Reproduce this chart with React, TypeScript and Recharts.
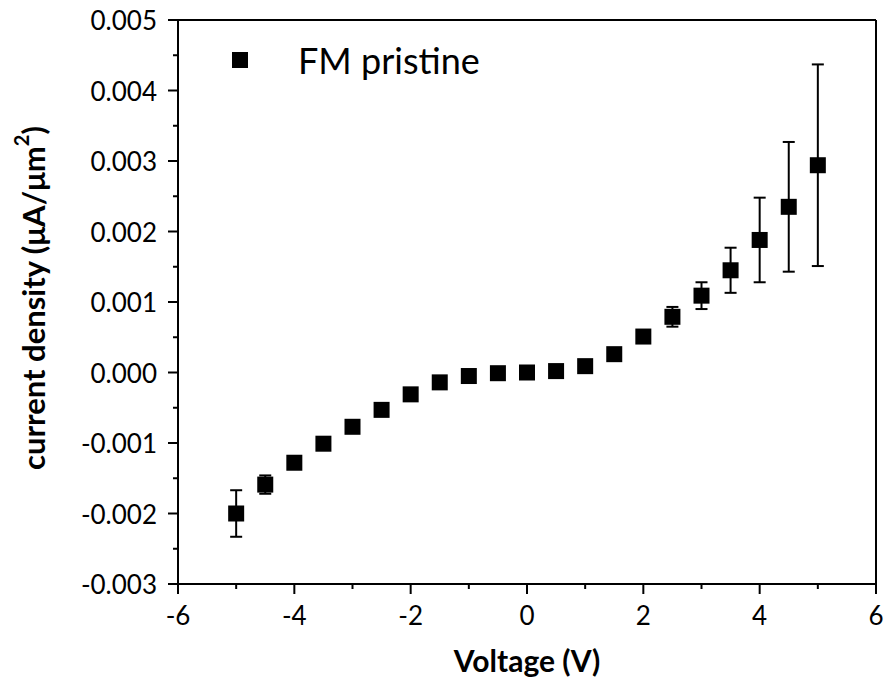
import { ErrorBar, Label, ReferenceLine, Scatter, ScatterChart, XAxis, YAxis } from "recharts";

const voltage = [-5, -4.5, -4, -3.5, -3, -2.5, -2, -1.5, -1, -0.5, 0, 0.5, 1, 1.5, 2, 2.5, 3, 3.5, 4, 4.5, 5];
const density = [
  -0.002, -0.00159, -0.00128, -0.00101, -0.00077, -0.00053, -0.00031, -0.00014, -0.00005, -0.00001, 0,
  0.00002, 0.00009, 0.00026, 0.00051, 0.00079, 0.00109, 0.00145, 0.00188, 0.00235, 0.00294,
];
const densityErr = [
  0.00033, 0.00013, 0, 0, 0, 0, 0, 0, 0, 0, 0,
  0, 0, 0, 0, 0.00014, 0.00019, 0.00032, 0.0006, 0.00092, 0.00143,
];

const xMajorTicks = [-6, -4, -2, 0, 2, 4, 6];
const xMinorTicks = [-5, -3, -1, 1, 3, 5];
const yMajorTicks = [-0.003, -0.002, -0.001, 0, 0.001, 0.002, 0.003, 0.004, 0.005];
const yMinorTicks = [-0.0025, -0.0015, -0.0005, 0.0005, 0.0015, 0.0025, 0.0035, 0.0045];

const seriesName = "FM pristine";

const data = voltage.map((v, i) => ({ x: v, y: density[i], err: densityErr[i] }));

const font = "Lato, 'Open Sans', sans-serif";

function SquareDot(props: any) {
  const { cx, cy } = props;
  return <rect x={cx - 8} y={cy - 8} width={16} height={16} fill="#000" />;
}

function YTick(props: any) {
  const { x, y, payload } = props;
  const major = yMajorTicks.includes(payload.value);
  return (
    <g>
      <line x1={x - (major ? 10 : 5)} y1={y} x2={x} y2={y} stroke="#000" strokeWidth={2} />
      {major && (
        <text x={x - 21} y={y} textAnchor="end" dominantBaseline="central" fontSize={26} fontFamily={font} fill="#000">
          {payload.value.toFixed(3)}
        </text>
      )}
    </g>
  );
}

function XTick(props: any) {
  const { x, y, payload } = props;
  const major = xMajorTicks.includes(payload.value);
  return (
    <g>
      <line x1={x} y1={y} x2={x} y2={y + (major ? 10 : 5)} stroke="#000" strokeWidth={2} />
      {major && (
        <text x={x} y={y + 31} textAnchor="middle" dominantBaseline="central" fontSize={26} fontFamily={font} fill="#000">
          {payload.value}
        </text>
      )}
    </g>
  );
}

function LegendBox() {
  return (
    <div
      style={{
        position: "absolute",
        top: 40,
        left: 232,
        display: "flex",
        alignItems: "center",
        fontFamily: font,
        fontSize: 36,
        lineHeight: "40px",
        color: "#000",
      }}
    >
      <svg width={16} height={16}>
        <rect width={16} height={16} fill="#000" />
      </svg>
      <span style={{ marginLeft: 50 }}>{seriesName}</span>
    </div>
  );
}

export default function App() {
  return (
    <div style={{ position: "absolute", left: 0, top: 0, width: 885, height: 679, background: "#fff" }}>
      <ScatterChart width={885} height={679} margin={{ top: 20, right: 9, bottom: 0, left: 0 }}>
        <XAxis
          type="number"
          dataKey="x"
          domain={[-6, 6]}
          ticks={[...xMajorTicks, ...xMinorTicks].sort((a, b) => a - b)}
          interval={0}
          tickSize={0}
          tickMargin={0}
          tick={<XTick />}
          axisLine={{ stroke: "#000", strokeWidth: 2 }}
          height={95}
        >
          <Label
            content={(p: any) => (
              <text
                x={p.viewBox.x + p.viewBox.width / 2}
                y={p.viewBox.y + 76}
                textAnchor="middle"
                dominantBaseline="central"
                fontSize={30}
                fontWeight="bold"
                fontFamily={font}
                fill="#000"
              >
                Voltage (V)
              </text>
            )}
          />
        </XAxis>
        <YAxis
          type="number"
          dataKey="y"
          domain={[-0.003, 0.005]}
          ticks={[...yMajorTicks, ...yMinorTicks].sort((a, b) => a - b)}
          interval={0}
          tickSize={0}
          tickMargin={0}
          tick={<YTick />}
          axisLine={{ stroke: "#000", strokeWidth: 2 }}
          width={178}
        >
          <Label
            content={(p: any) => {
              const cx = p.viewBox.x + 33;
              const cy = p.viewBox.y + p.viewBox.height / 2 - 4;
              return (
                <text
                  x={cx}
                  y={cy}
                  transform={`rotate(-90, ${cx}, ${cy})`}
                  textAnchor="middle"
                  dominantBaseline="central"
                  fontSize={31}
                  fontWeight="bold"
                  fontFamily={font}
                  fill="#000"
                >
                  current density (μA/μm
                  <tspan dy={-12} fontSize={20}>2</tspan>
                  <tspan dy={12}>)</tspan>
                </text>
              );
            }}
          />
        </YAxis>
        <ReferenceLine y={0.005} stroke="#000" strokeWidth={2} />
        <ReferenceLine x={6} stroke="#000" strokeWidth={2} />
        <Scatter name={seriesName} data={data} fill="#000" shape={<SquareDot />} isAnimationActive={false}>
          <ErrorBar dataKey="err" direction="y" width={6} stroke="#000" strokeWidth={2} />
        </Scatter>
      </ScatterChart>
      <LegendBox />
    </div>
  );
}
